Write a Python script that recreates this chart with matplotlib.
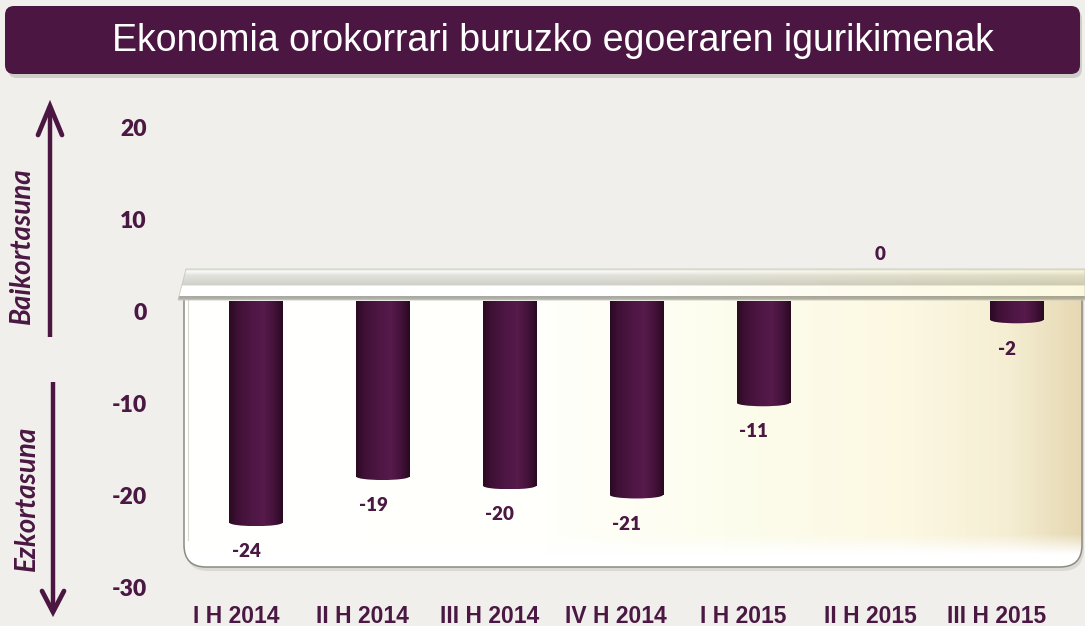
import numpy as np
import matplotlib
matplotlib.use('Agg')
import matplotlib.pyplot as plt
from matplotlib.patches import FancyBboxPatch, Polygon, Ellipse
from matplotlib.colors import LinearSegmentedColormap, to_rgb

#----------- Data -----------
periods = ['I H 2014', 'II H 2014', 'III H 2014', 'IV H 2014',
           'I H 2015', 'II H 2015', 'III H 2015']
values = [-24, -19, -20, -21, -11, 0, -2]
y_ticks = [20, 10, 0, -10, -20, -30]
title = 'Ekonomia orokorrari buruzko egoeraren igurikimenak'
label_up = 'Baikortasuna'
label_down = 'Ezkortasuna'
#----------------------------

purple = '#4b1641'
text_purple = '#4a1843'
bg_color = '#f0efeb'

W, H = 1085, 626
fig = plt.figure(figsize=(W / 100, H / 100), dpi=100, facecolor=bg_color)

# background axes in pixel coordinates (y down)
bg = fig.add_axes([0, 0, 1, 1])
bg.set_xlim(0, W)
bg.set_ylim(H, 0)
bg.axis('off')

# title banner
shadow = FancyBboxPatch((8, 10), 1074, 68, boxstyle='round,pad=0,rounding_size=9',
                        fc='#b9b7b1', ec='none', alpha=0.6)
bg.add_patch(shadow)
banner = FancyBboxPatch((5, 6), 1075, 68, boxstyle='round,pad=0,rounding_size=9',
                        fc=purple, ec='none')
bg.add_patch(banner)
bg.text(553, 41, title, color='white', fontsize=27, ha='center', va='center',
        family='Liberation Sans')

# arrows
def arrow(x, y0, y1, hx, hy):
    bg.plot([x, x], [y0, y1], color=purple, lw=3.2, solid_capstyle='butt')
    bg.plot([x - hx, x, x + hx], [y1 + hy, y1, y1 + hy], color=purple, lw=3.4,
            solid_capstyle='round', solid_joinstyle='miter')

arrow(50, 337, 106, 12, 29)
arrow(53, 382, 612, 11, -21)
bg.text(22, 246, label_up, rotation=90, ha='center', va='center', color=text_purple,
        fontsize=20, fontweight='bold', fontstyle='italic', family='Lato')
bg.text(27, 498, label_down, rotation=90, ha='center', va='center', color=text_purple,
        fontsize=20, fontweight='bold', fontstyle='italic', family='Lato')

# container with gradient
cont_shadow = FancyBboxPatch((186, 283), 898, 288, boxstyle='round,pad=0,rounding_size=22',
                             fc='#d2d0c9', ec='none', alpha=0.7)
bg.add_patch(cont_shadow)
container = FancyBboxPatch((184, 280), 898, 287, boxstyle='round,pad=0,rounding_size=22',
                           fc='none', ec='#8c8a82', lw=1.1, zorder=3)
bg.add_patch(container)
cont_cmap = LinearSegmentedColormap.from_list('cont', [
    (0, '#ffffff'), (0.4, '#fffffb'), (0.6, '#fdfdee'), (0.8, '#fcf8e2'),
    (0.92, '#f5eed3'), (1.0, '#e6d8b2')])
im = bg.imshow(np.linspace(0, 1, 256)[None, :], extent=[184, 1082, 567, 280],
               cmap=cont_cmap, aspect='auto', zorder=2)
im.set_clip_path(container)
# bottom white bevel
bev = np.ones((40, 1, 4))
bev[:, 0, 3] = np.clip(np.linspace(-0.3, 1.6, 40), 0, 1)
im2 = bg.imshow(bev, extent=[184, 1082, 567, 527], aspect='auto', zorder=2.5)
im2.set_clip_path(container)
bg.plot([188, 188], [300, 540], color='#d8d8d2', lw=0.8, zorder=2.6)

# plate on top of container
plate = Polygon([(186, 269), (1085, 269), (1085, 300), (178, 300)], closed=True,
                fc='none', ec='#c9c9c2', lw=0.6, zorder=5)
bg.add_patch(plate)
prof_y = [0, 2, 6, 16, 17, 27, 28, 31]
prof_c = ['#e6e6e0', '#f8f8f5', '#e2e2dd', '#d0d0c9', '#ffffff', '#ffffff', '#a6a59e', '#b8b7b0']
rows = np.array([np.interp(np.arange(32), prof_y, [to_rgb(c)[k] for c in prof_c])
                 for k in range(3)]).T
tint = np.clip((np.linspace(178, 1085, 300) - 600) / 485, 0, 1)
tint_rgb = 1 - tint[:, None] * (1 - np.array([0.99, 0.975, 0.88]))
plate_img = rows[:, None, :] * tint_rgb[None, :, :]
im3 = bg.imshow(plate_img, extent=[178, 1085, 300, 269], aspect='auto', zorder=4)
im3.set_clip_path(plate)

# axes geometry: 20 -> y=127 px, -30 -> y=588 px
ax_left = 180 / W
ax_bottom = 1 - 588 / H
ax_w = (W - 180) / W
ax_h = (588 - 127) / H
px_per_unit = (588 - 127) / 50
shift = 10 / px_per_unit  # bars start 10 px above the zero tick

bar_x = np.arange(len(periods))
xlim = (-0.599, 6.538)
lab_shift = 20 / 126.8

ax2 = fig.add_axes([ax_left, ax_bottom, ax_w, ax_h], zorder=1)
ax2.set_ylim(-30, 20)
ax2.set_xlim(xlim[0] + lab_shift, xlim[1] + lab_shift)
ax2.patch.set_visible(False)
for s in ax2.spines.values():
    s.set_visible(False)
ax2.set_yticks(y_ticks)
ax2.set_yticklabels([str(t) for t in y_ticks], fontsize=16.5, fontweight='heavy',
                    color=text_purple, family='Lato')
ax2.set_xticks(bar_x)
ax2.set_xticklabels(periods, fontsize=16.5, fontweight='bold', color=text_purple,
                    family='Liberation Sans')
ax2.tick_params(axis='y', length=0, pad=24)
ax2.tick_params(axis='x', length=0, pad=12)

ax = fig.add_axes([ax_left, ax_bottom, ax_w, ax_h], zorder=2)
ax.patch.set_visible(False)
ax.axis('off')
cyl = LinearSegmentedColormap.from_list('cyl', [
    (0, '#2c0a23'), (0.15, '#3f1036'), (0.45, '#4f1745'), (0.65, '#561a4b'),
    (0.85, '#43123a'), (1.0, '#2a0921')])
bar_w = 53 / 126.8
bars = ax.bar(bar_x, values, width=bar_w, color='none', edgecolor='none')
grad = np.linspace(0, 1, 64)[None, :]
for b, v in zip(bars, values):
    if v == 0:
        continue
    x0, w = b.get_x(), b.get_width()
    img = ax.imshow(grad, extent=[x0, x0 + w, v, 0], cmap=cyl, aspect='auto', zorder=2)
    img.set_clip_path(b)
    e = Ellipse((x0 + w / 2, v), w, 0.75, fc='none', ec='none')
    ax.add_patch(e)
    img2 = ax.imshow(grad, extent=[x0, x0 + w, v - 0.4, v + 0.4], cmap=cyl,
                     aspect='auto', zorder=2)
    img2.set_clip_path(e)

for xi, v in zip(bar_x, values):
    dy = 34 if v == 0 else -21
    ax.annotate(str(v), (xi, v), xytext=(-7, dy), textcoords='offset points',
                ha='center', va='center', fontsize=13.5, fontweight='heavy',
                color=text_purple, family='Lato')

ax.set_xlim(*xlim)
ax.set_ylim(-30 - shift, 20 - shift)

fig.savefig('out.png', dpi=100, facecolor=bg_color)
